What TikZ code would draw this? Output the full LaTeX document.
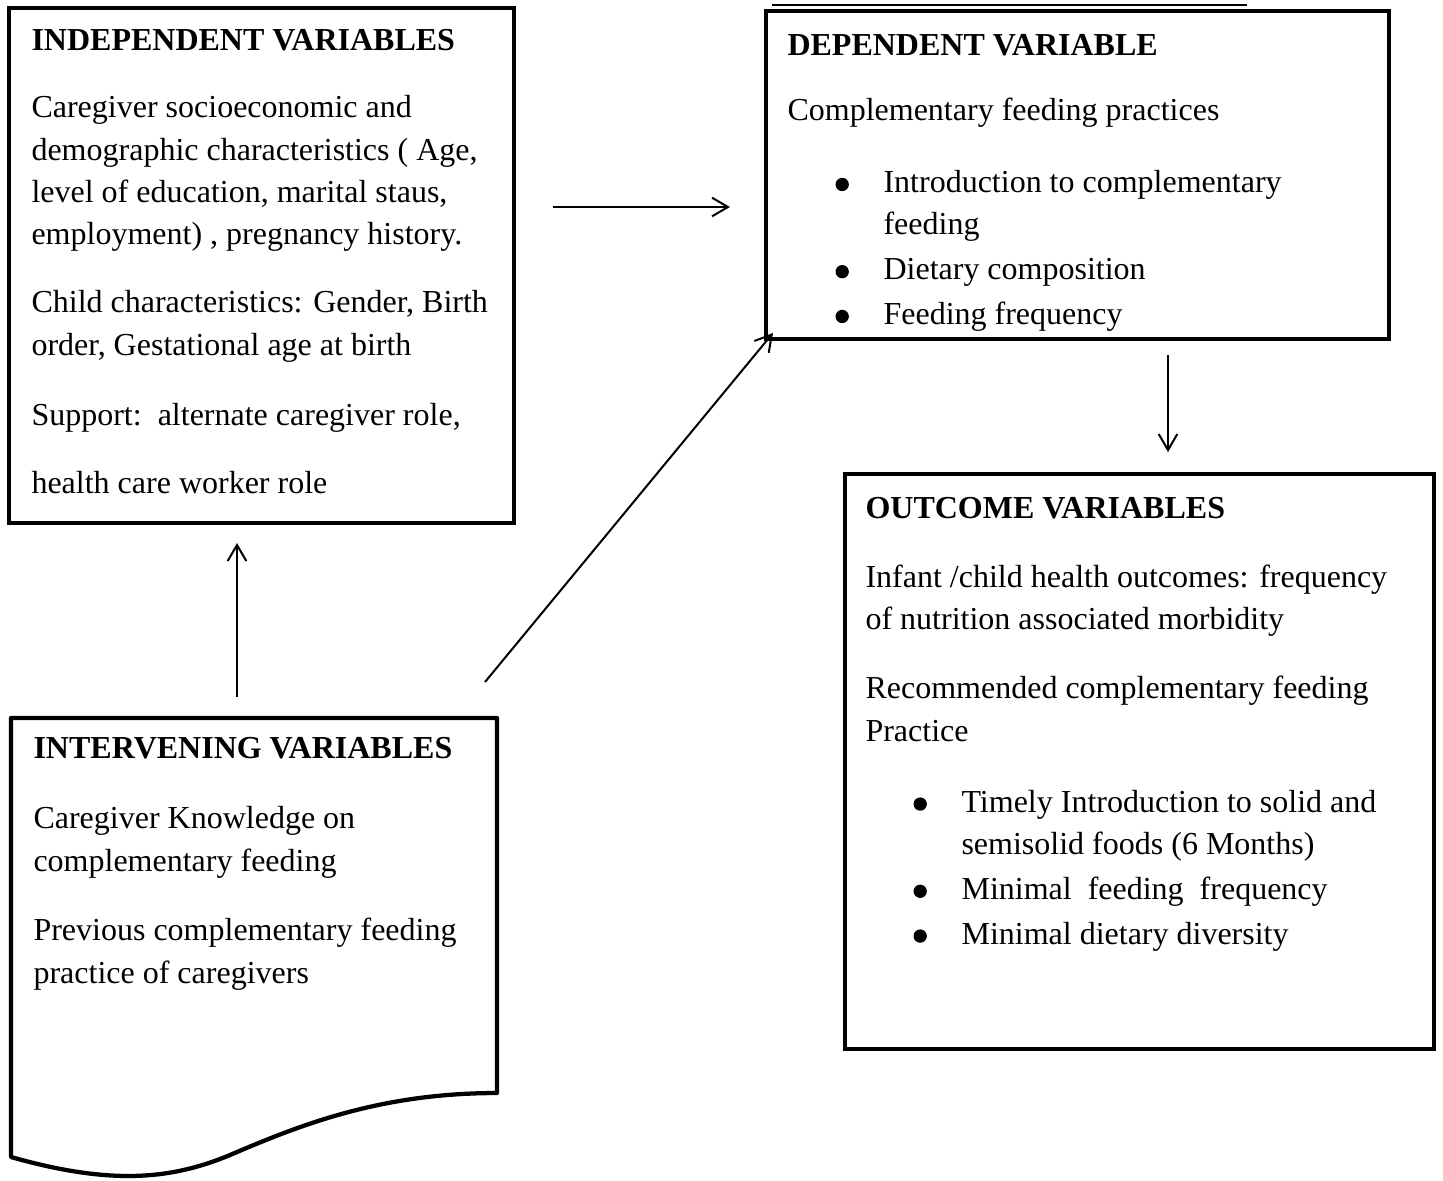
\documentclass[tikz,border=0pt]{standalone}
\usepackage{fontspec}
\setmainfont{Liberation Serif}
\usetikzlibrary{arrows.meta,positioning,calc,fit}
\newcommand{\bul}{\makebox[36pt][l]{\hspace{18pt}\tikz[baseline=-3pt]\fill (0,0) circle (2.5pt);}}
\newcommand{\cont}{\hspace*{36pt}}

\begin{document}
\begin{tikzpicture}[
  x=0.375pt, y=-0.375pt,
  box/.style={draw,line width=1.6pt,inner sep=0pt,outer sep=0pt},
  txt/.style={anchor=north west,align=left,inner sep=0pt,
              font=\fontsize{12}{15.9}\selectfont},
  flow/.style={-{Straight Barb[length=6pt,width=7pt]},line width=0.75pt},
]
  \useasboundingbox (0,0) rectangle (1443,1180);

  % boxes
  \node[box,fit={(9,8) (514,523)}]       (indep)  {};
  \node[box,fit={(766,11) (1389,339)}]   (dep)    {};
  \node[box,fit={(845,474) (1434,1049)}] (outc)   {};
  \node[inner sep=0pt,outer sep=0pt,fit={(11,718) (497,1178)}] (interv) {};
  \draw[line width=1.6pt,line join=round]
    (interv.north west) -- (497,718) -- (497,1093)
    .. controls (380,1093) and (300,1125) .. (230,1155)
    .. controls (170,1180) and (110,1185) .. (11,1157) -- cycle;
  \draw[line width=0.5pt] ($(dep.north west)+(6,-6)$) -- ($(dep.north west)+(481,-6)$);

  % texts
  \node[txt] (indeptxt) at ($(indep.north west)+(22,21)$)
    {\textbf{INDEPENDENT VARIABLES}\\[9.2pt]
     Caregiver socioeconomic and\\
     demographic characteristics ( Age,\\
     level of education, marital staus,\\
     employment) , pregnancy history.\\[9.6pt]
     Child characteristics: Gender, Birth\\
     order, Gestational age at birth\\[10.3pt]
     Support:\ \ alternate caregiver role,\\[9.6pt]
     health care worker role};

  \node[txt] (deptxt) at ($(dep.north west)+(21,23)$)
    {\textbf{DEPENDENT VARIABLE}\\[8.4pt]
     Complementary feeding practices\\[11.1pt]
     \bul Introduction to complementary\\
     \cont feeding\\[0.9pt]
     \bul Dietary composition\\[0.9pt]
     \bul Feeding frequency};

  \node[txt] (outctxt) at ($(outc.north west)+(20,23)$)
    {\textbf{OUTCOME VARIABLES}\\[9.9pt]
     Infant /child health outcomes: frequency\\
     of nutrition associated morbidity\\[9.9pt]
     Recommended complementary feeding\\
     Practice\\[10.7pt]
     \bul Timely Introduction to solid and\\
     \cont semisolid foods (6 Months)\\[0.9pt]
     \bul Minimal\ \ feeding\ \ frequency\\[0.9pt]
     \bul Minimal dietary diversity};

  \node[txt] (intervtxt) at ($(interv.north west)+(22,19)$)
    {\textbf{INTERVENING VARIABLES}\\[10.3pt]
     Caregiver Knowledge on\\
     complementary feeding\\[10.3pt]
     Previous complementary feeding\\
     practice of caregivers};

  % arrows
  \draw[flow] ($(indep.north east)+(39,199)$) -- ($(dep.north west)+(-36,196)$);
  \draw[flow] ($(interv.north east)+(-12,-36)$) -- ($(dep.south west)+(7,-6)$);
  \draw[flow] ($(interv.north west)+(226,-21)$) -- ($(indep.south west)+(228,20)$);
  \draw[flow] ($(dep.south west)+(402,16)$) -- ($(outc.north west)+(323,-22)$);
\end{tikzpicture}
\end{document}
